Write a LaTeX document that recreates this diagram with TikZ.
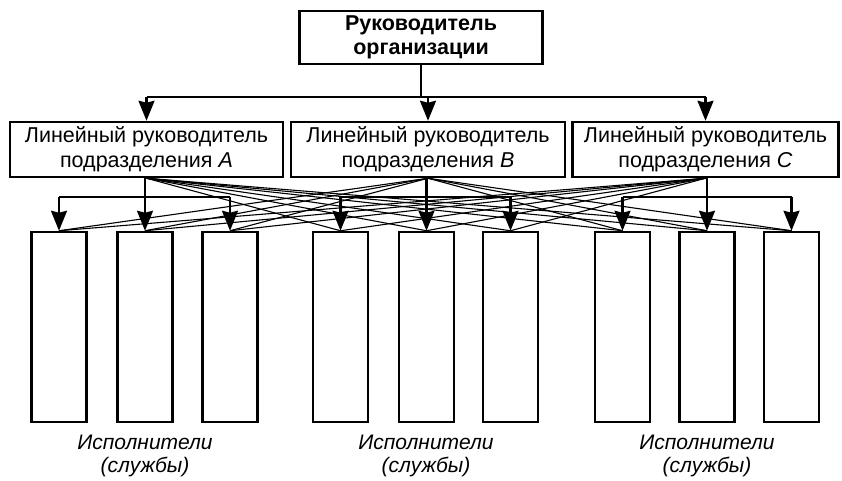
\documentclass[tikz,border=0pt]{standalone}
\usepackage{fontspec}
\setmainfont{Liberation Sans}
\usetikzlibrary{arrows.meta, positioning}

\begin{document}
\begin{tikzpicture}[x=1pt, y=1pt,
  >={Stealth[length=20pt, width=16pt, inset=2pt]},
  box/.style={draw, line width=2.5pt, align=center, inner sep=0pt},
  chief/.style={box, minimum width=243pt, minimum height=53pt, font=\fontsize{21.5}{24}\selectfont\bfseries},
  head/.style={box, minimum height=55pt, font=\fontsize{21.5}{25}\selectfont},
  worker/.style={box, minimum width=55pt, minimum height=190pt},
  caption/.style={align=center, font=\fontsize{21}{23}\selectfont\itshape},
  bus/.style={line width=2.2pt},
  main/.style={line width=2.2pt, ->},
  link/.style={line width=1.1pt}]

  \useasboundingbox (0,0) rectangle (842,481);

  % top level
  \node[chief] (top) at (421,443.5) {Руководитель\\организации};

  % line managers
  \node[head, minimum width=273pt] (mA) at (146.5,331.5) {Линейный руководитель\\подразделения \textit{A}};
  \node[head, minimum width=274pt] (mB) at (428,331.5) {Линейный руководитель\\подразделения \textit{B}};
  \node[head, minimum width=266pt] (mC) at (705.5,331.5) {Линейный руководитель\\подразделения \textit{C}};

  % executors
  \foreach \g/\xa/\xb/\xc/\xl in {A/59/145/230/145, B/340.5/426.5/510.5/426, C/622.5/707/791.5/707} {
    \node[worker] (e\g1) at (\xa,154) {};
    \node[worker] (e\g2) at (\xb,154) {};
    \node[worker] (e\g3) at (\xc,154) {};
    \node[caption] (c\g) at (\xl,25.5) {Исполнители\\(службы)};
  }

  % cross links
  \foreach \m/\g in {A/B, A/C, B/A, B/C, C/A, C/B}
    \foreach \i in {1,2,3}
      \draw[link] (m\m.south) -- (e\g\i.north);

  % top bus
  \coordinate (tbus) at (421,384);
  \draw[bus] (top.south) -- (tbus);
  \draw[bus] (mA.north |- tbus) -- (mC.north |- tbus);
  \foreach \m in {mA,mB,mC}
    \draw[main] (\m.north |- tbus) -- (\m.north);

  % group buses
  \coordinate (gbus) at (0,284);
  \foreach \g in {A,B,C} {
    \draw[bus] (e\g1.north |- gbus) -- (e\g3.north |- gbus);
    \draw[main] (e\g2.north |- m\g.south) -- (e\g2.north);
    \draw[main] (e\g1.north |- gbus) -- (e\g1.north);
    \draw[main] (e\g3.north |- gbus) -- (e\g3.north);
  }
\end{tikzpicture}
\end{document}
